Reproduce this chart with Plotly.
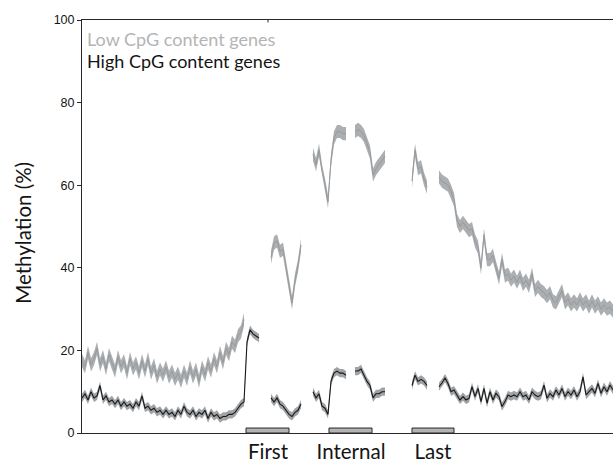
import numpy as np
import plotly.graph_objects as go

# ---------------- data (bin positions; one bin ~ fixed genomic step) ----------------
region_labels = ["First", "Internal", "Last"]
region_centers = [62, 89.67, 117]
exon_starts = [54.67, 82.33, 110]
exon_ends = [69, 96.67, 124]
exon_height = 1.2

# segment start bins
low_starts = [0, 63, 77, 91, 110, 119]
high_starts = [0, 63, 77, 91, 110, 119]

# Low CpG content genes (methylation %)
low_up = [17.5, 16.0, 19.5, 16.5, 18.0, 20.5, 16.5, 18.5, 15.5, 19.0, 17.0, 15.0, 18.5, 16.0, 17.5,
          14.5, 18.0, 15.5, 17.0, 14.5, 17.5, 15.0, 18.0, 14.5, 16.5, 13.5, 15.5, 14.0, 16.0, 13.5,
          15.0, 13.0, 14.5, 12.5, 15.0, 13.0, 16.0, 13.5, 15.5, 12.5, 16.0, 14.0, 17.0, 15.0, 18.0,
          16.0, 19.5, 17.0, 20.5, 19.0, 22.0, 21.0, 23.5, 24.5, 27.5]
low_fe = [42.5, 46.0, 46.5, 44.0, 44.5, 40.0, 36.0, 31.5, 37.0, 40.5, 45.5]
low_is = [67.5, 65.0, 68.5, 63.5, 60.0, 56.0, 66.0, 71.5, 73.0, 73.0, 72.5, 72.5]
low_ie = [73.0, 73.5, 73.0, 72.0, 70.0, 68.0, 62.5, 64.0, 65.0, 66.0, 67.0]
low_ls = [61.0, 68.5, 64.0, 64.5, 61.5, 59.5]
low_dn = [62.0, 61.0, 60.5, 60.0, 58.5, 56.5, 51.5, 50.0, 51.0, 50.0, 49.0, 49.5, 46.5, 45.0, 40.0,
          48.0, 42.0, 42.0, 43.0, 40.0, 37.5, 42.0, 38.0, 38.5, 37.0, 38.0, 36.5, 38.0, 36.0, 37.0,
          35.5, 38.5, 34.5, 35.5, 34.5, 34.0, 33.0, 34.0, 32.0, 31.5, 33.0, 34.5, 31.5, 32.5, 31.0,
          32.0, 31.0, 32.5, 31.0, 32.0, 30.5, 32.0, 30.5, 31.5, 30.0, 31.0, 30.0, 30.5, 29.5]
low_sem = 1.6

# High CpG content genes (methylation %)
high_up = [8.5, 9.5, 8.0, 10.0, 8.5, 9.0, 11.5, 8.0, 9.0, 7.5, 8.0, 7.0, 8.0, 6.5, 7.5,
           6.5, 7.0, 6.0, 7.5, 6.5, 9.0, 6.0, 6.5, 5.5, 6.0, 5.0, 5.5, 4.5, 5.5, 4.5,
           5.0, 4.0, 5.5, 4.5, 6.5, 5.0, 4.5, 5.5, 4.0, 5.0, 4.5, 5.5, 3.5, 5.0, 4.0,
           4.5, 3.5, 4.0, 4.0, 4.5, 4.5, 5.0, 6.0, 7.0, 7.5, 22.0, 25.0, 24.0, 23.5, 23.0]
high_fe = [8.5, 7.5, 8.5, 7.0, 6.5, 5.5, 4.5, 4.0, 5.0, 5.5, 7.0]
high_is = [10.0, 8.5, 9.5, 6.5, 6.0, 4.5, 12.5, 14.5, 15.0, 14.5, 14.5, 14.0]
high_ie = [15.0, 15.0, 15.5, 14.0, 12.5, 11.5, 8.5, 9.5, 9.5, 10.0, 10.0]
high_ls = [11.5, 14.0, 12.5, 13.0, 12.5, 11.5]
high_dn = [11.2, 12.1, 13.3, 12.0, 10.0, 10.4, 9.2, 8.0, 8.8, 8.0, 8.4, 11.2, 8.8, 10.8, 7.6,
           10.8, 7.2, 10.0, 8.0, 9.6, 8.8, 6.4, 7.6, 9.2, 8.8, 9.2, 8.8, 10.0, 8.8, 9.2,
           8.0, 10.0, 9.2, 8.8, 9.2, 11.6, 8.4, 9.6, 8.8, 10.4, 9.2, 10.8, 8.8, 10.0, 9.2,
           10.4, 8.8, 10.0, 13.6, 9.2, 10.0, 10.8, 9.6, 12.0, 9.6, 11.2, 10.0, 11.6, 10.4]
high_sem = 1.0

low_segments = [low_up, low_fe, low_is, low_ie, low_ls, low_dn]
high_segments = [high_up, high_fe, high_is, high_ie, high_ls, high_dn]

LOW_FILL = "rgb(172,175,178)"
LOW_LINE = "rgb(152,155,158)"
HIGH_FILL = "rgb(160,163,166)"
HIGH_LINE = "rgb(25,25,25)"
AXIS = "rgb(40,40,40)"

fig = go.Figure()


def add_series(starts, segments, sem, fill, line, lw):
    for s, vals in zip(starts, segments):
        v = np.array(vals, dtype=float)
        x = s + np.arange(len(v))
        up = v + sem
        lo = v - sem
        fig.add_trace(go.Scatter(
            x=np.concatenate([x, x[::-1]]), y=np.concatenate([up, lo[::-1]]),
            fill="toself", fillcolor=fill, line=dict(width=0), mode="lines",
            hoverinfo="skip", showlegend=False))
        fig.add_trace(go.Scatter(x=x, y=v, mode="lines",
                                 line=dict(color=line, width=lw),
                                 showlegend=False))


add_series(low_starts, low_segments, low_sem, LOW_FILL, LOW_LINE, 1.0)
add_series(high_starts, high_segments, high_sem, HIGH_FILL, HIGH_LINE, 1.1)

# exon bars
for x0, x1 in zip(exon_starts, exon_ends):
    fig.add_shape(type="rect", xref="x", yref="y", x0=x0, x1=x1, y0=0, y1=exon_height,
                  fillcolor="rgb(180,180,180)", line=dict(color=AXIS, width=1))

# small tick on top border
fig.add_shape(type="line", xref="x", yref="y", x0=region_centers[0], x1=region_centers[0],
              y0=100, y1=99.4, line=dict(color=AXIS, width=1))

# legend texts
fig.add_annotation(x=0, xref="x", y=95.5, yref="y", text="Low CpG content genes",
                   showarrow=False, xanchor="left", yanchor="middle", xshift=3,
                   font=dict(family="Lato", size=18, color="rgb(180,180,180)"))
fig.add_annotation(x=0, xref="x", y=90.0, yref="y", text="High CpG content genes",
                   showarrow=False, xanchor="left", yanchor="middle", xshift=3,
                   font=dict(family="Lato", size=18, color="rgb(20,20,20)"))

# y title
fig.add_annotation(x=0, xref="paper", y=48.5, yref="y", text="Methylation (%)",
                   showarrow=False, textangle=-90, xanchor="center", yanchor="middle",
                   xshift=-59, font=dict(family="Lato", size=20.5, color="rgb(20,20,20)"))

fig.update_layout(
    width=613, height=463,
    margin=dict(l=82, r=0, t=20, b=30, autoexpand=False),
    paper_bgcolor="white", plot_bgcolor="white",
    xaxis=dict(range=[0, 177], showgrid=False, zeroline=False, showline=True,
               linecolor=AXIS, linewidth=1, mirror=True, ticks="", automargin=False,
               tickvals=region_centers, ticktext=region_labels, ticklabelstandoff=0,
               tickfont=dict(family="Lato", size=20.5, color="rgb(20,20,20)")),
    yaxis=dict(range=[0, 100], showgrid=False, zeroline=False, showline=True,
               linecolor=AXIS, linewidth=1, ticks="outside", ticklen=4, tickcolor=AXIS,
               automargin=False, tickvals=[0, 20, 40, 60, 80, 100],
               tickfont=dict(family="Liberation Sans", size=12.5, color="rgb(20,20,20)")),
)

fig.write_html("out.html")
